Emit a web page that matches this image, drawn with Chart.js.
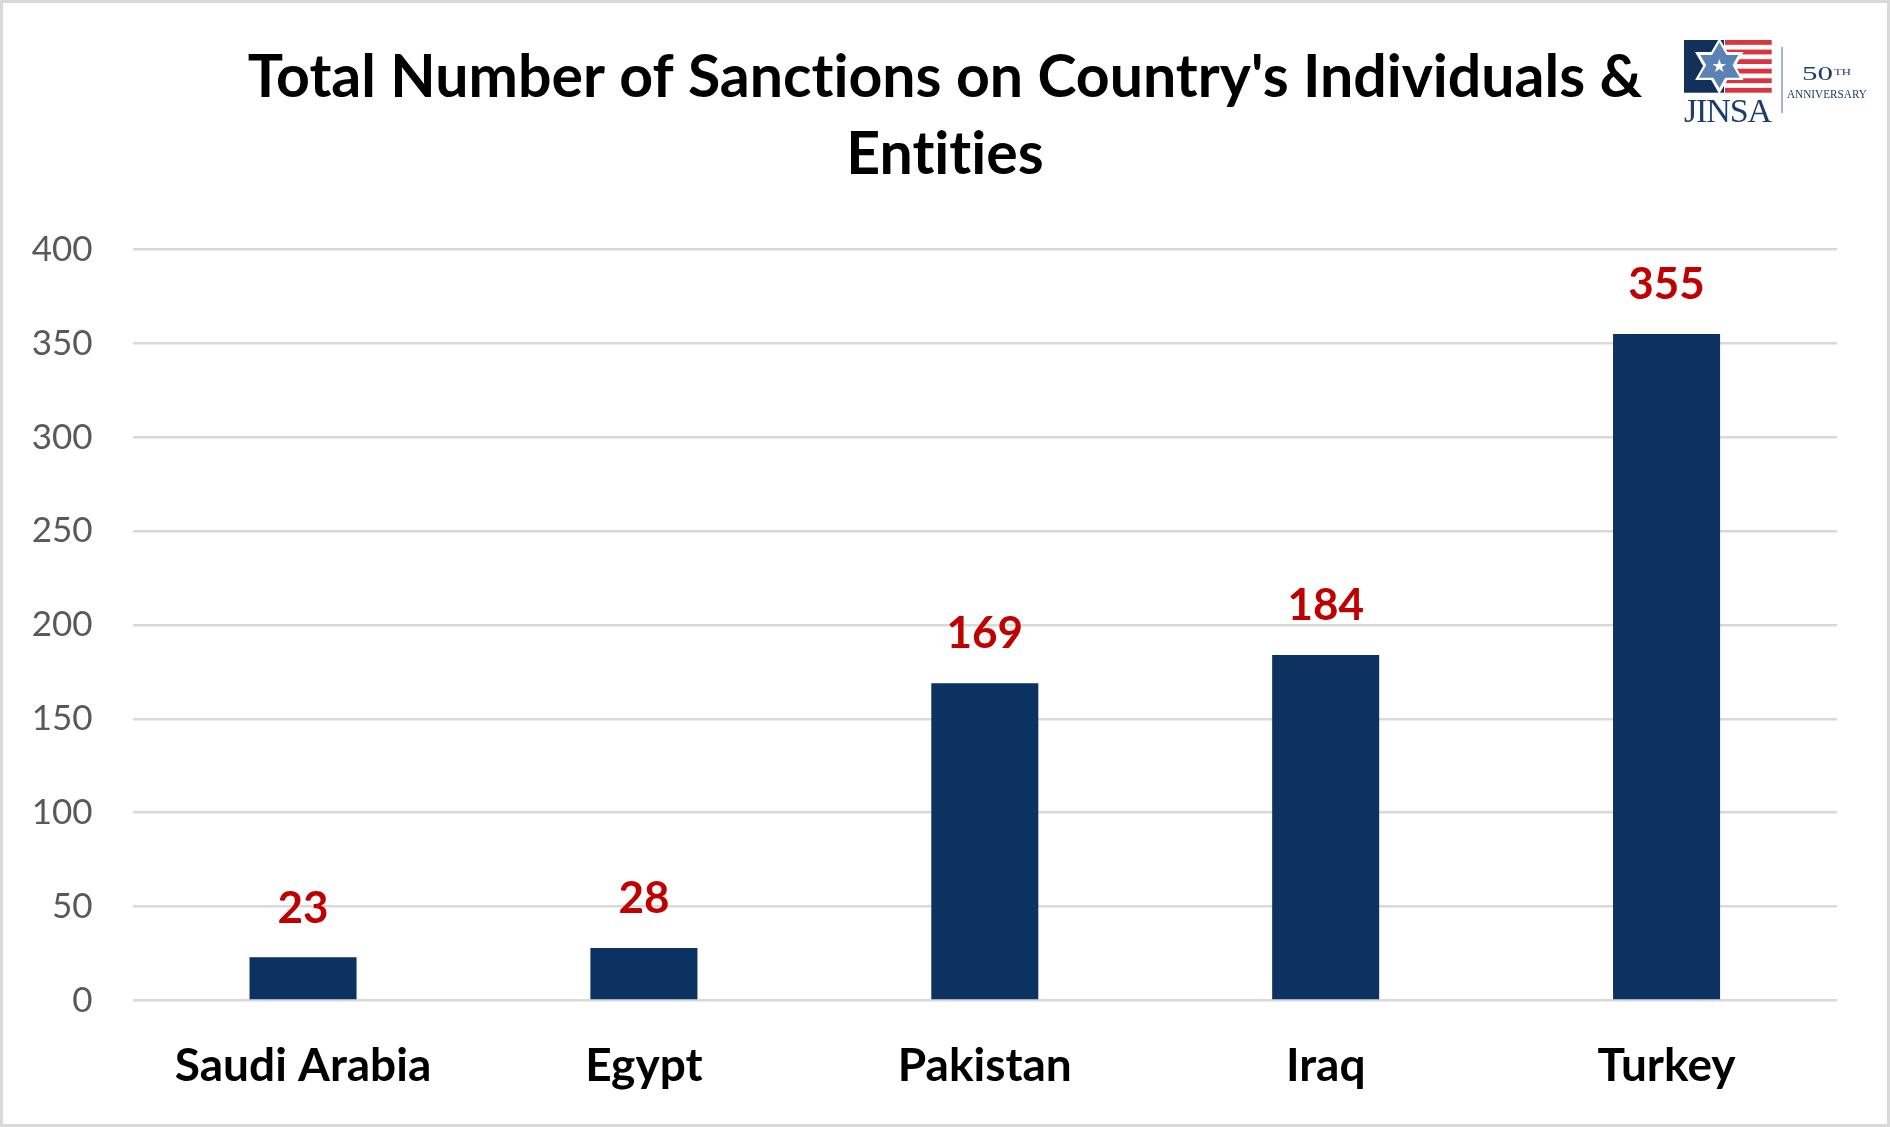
<!DOCTYPE html>
<html>
<head>
<meta charset="utf-8">
<script src="https://cdn.jsdelivr.net/npm/chart.js@4.4.1/dist/chart.umd.min.js"></script>
<style>
  html, body { margin: 0; padding: 0; background: #fff; }
  #wrap { position: relative; width: 1890px; height: 1127px; }
  #chart { position: absolute; left: 0; top: 0; }
  #frame { position: absolute; left: 0; top: 0; width: 1890px; height: 1127px;
           box-sizing: border-box; border: 3px solid #d9d9d9; pointer-events: none; }
  #logo { position: absolute; left: 1670px; top: 30px; }
</style>
</head>
<body>
<div id="wrap">
  <canvas id="chart" width="1890" height="1127"></canvas>
  <svg id="logo" width="215" height="100" viewBox="0 0 215 100">
    <rect x="14" y="10" width="40" height="52.7" fill="#13305a"/>
    <g fill="#d93440">
      <rect x="55" y="10" width="46.7" height="4.8"/>
      <rect x="55" y="19.6" width="46.7" height="4.8"/>
      <rect x="55" y="29.2" width="46.7" height="4.8"/>
      <rect x="55" y="38.7" width="46.7" height="4.8"/>
      <rect x="55" y="48.3" width="46.7" height="4.8"/>
      <rect x="55" y="57.9" width="46.7" height="4.8"/>
    </g>
    <g fill="#5b82b6" stroke="#fff" stroke-width="3" stroke-linejoin="miter">
      <polygon points="49.3,11 27.65,48.5 70.95,48.5"/>
      <polygon points="49.3,61 27.65,23.5 70.95,23.5"/>
    </g>
    <polygon fill="#5b82b6" points="49.3,12.5 28.9,47.8 69.7,47.8"/>
    <polygon fill="#fff" points="49.3,29 51,34 56,34 52,37 53.5,42 49.3,39 45.1,42 46.6,37 42.6,34 47.6,34"/>
    <text x="14" y="92" font-family="Liberation Serif" font-size="34" fill="#1d3c6e" textLength="88" lengthAdjust="spacing">JINSA</text>
    <line x1="112" y1="17" x2="112" y2="83" stroke="#4a6a96" stroke-width="1"/>
    <text x="132" y="50" font-family="Liberation Serif" font-size="19" fill="#1d3c6e" textLength="31" lengthAdjust="spacingAndGlyphs">50</text>
    <text x="164" y="45" font-family="Liberation Serif" font-size="9" fill="#1d3c6e" textLength="17" lengthAdjust="spacingAndGlyphs">TH</text>
    <text x="117" y="68" font-family="Liberation Serif" font-size="11.5" fill="#1d3c6e" textLength="80" lengthAdjust="spacingAndGlyphs">ANNIVERSARY</text>
  </svg>
  <div id="frame"></div>
</div>
<script>
const titleLines = ["Total Number of Sanctions on Country's Individuals &", 'Entities'];
const countries = ['Saudi Arabia', 'Egypt', 'Pakistan', 'Iraq', 'Turkey'];
const sanctions = [23, 28, 169, 184, 355];
const yTicks = [0, 50, 100, 150, 200, 250, 300, 350, 400];

const BAR_COLOR = '#0b3260';
const LABEL_COLOR = '#c00000';
const GRID_COLOR = '#d9d9d9';

// plain glyphs, no "ti" ligature
const noLigatures = {
  id: 'noLigatures',
  beforeDraw(chart) {
    chart.ctx.textRendering = 'optimizeSpeed';
  }
};

// value labels above each bar
const valueLabels = {
  id: 'valueLabels',
  afterDatasetsDraw(chart) {
    const ctx = chart.ctx;
    const meta = chart.getDatasetMeta(0);
    ctx.save();
    ctx.font = 'bold 44px Lato';
    ctx.fillStyle = LABEL_COLOR;
    ctx.textAlign = 'center';
    ctx.textBaseline = 'middle';
    meta.data.forEach((bar, i) => {
      ctx.fillText(String(sanctions[i]), bar.x, bar.y - 49);
    });
    ctx.restore();
  }
};

new Chart(document.getElementById('chart'), {
  type: 'bar',
  data: {
    labels: countries,
    datasets: [{
      data: sanctions,
      backgroundColor: BAR_COLOR,
      categoryPercentage: 1,
      barPercentage: 0.314
    }]
  },
  options: {
    responsive: false,
    animation: false,
    devicePixelRatio: 1,
    layout: { padding: 0 },
    plugins: {
      legend: { display: false },
      tooltip: { enabled: false },
      title: {
        display: true,
        text: titleLines,
        color: '#000',
        font: { family: 'Lato', weight: 'bold', size: 59, lineHeight: 1.305 },
        padding: { top: 39.5, bottom: 56 }
      }
    },
    scales: {
      x: {
        grid: { display: false, drawTicks: false },
        border: { display: false },
        ticks: {
          color: '#000',
          font: { family: 'Lato', weight: 'bold', size: 46, lineHeight: 1.2 },
          padding: 38.5,
          maxRotation: 0
        },
        afterFit(scale) { scale.height = 126.5; }
      },
      y: {
        min: 0,
        max: 400,
        afterBuildTicks(scale) { scale.ticks = yTicks.map(v => ({ value: v })); },
        grid: { color: GRID_COLOR, lineWidth: 2.5, drawTicks: false },
        border: { display: false },
        ticks: {
          color: '#595959',
          font: { family: 'Lato', size: 35 },
          padding: 40
        },
        afterFit(scale) { scale.width = 132.6; }
      },
      // empty right-hand strip so the plot ends where the reference does
      yRight: {
        position: 'right',
        display: true,
        grid: { display: false, drawTicks: false },
        border: { display: false },
        ticks: { display: false },
        afterFit(scale) { scale.width = 53; }
      }
    }
  },
  plugins: [noLigatures, valueLabels]
});
</script>
</body>
</html>
